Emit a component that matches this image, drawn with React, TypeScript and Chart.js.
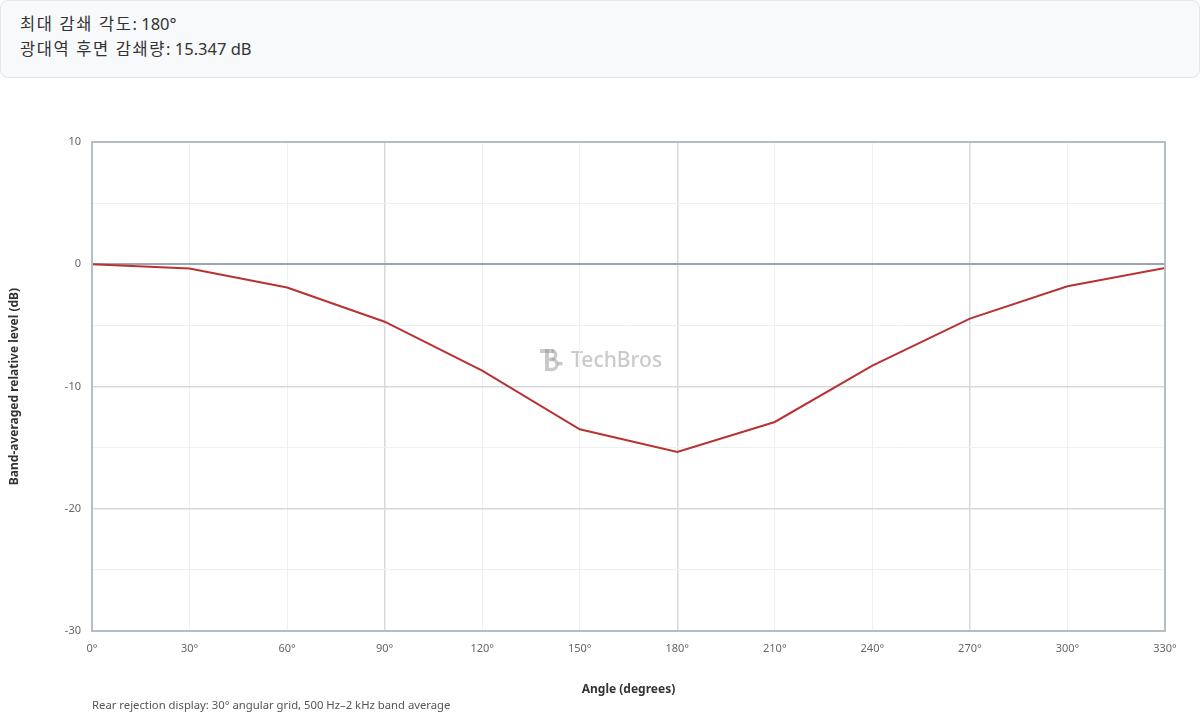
import { useEffect, useRef } from "react";
import { Chart } from "chart.js/auto";

const angles = [0, 30, 60, 90, 120, 150, 180, 210, 240, 270, 300, 330];
const levels = [0, -0.35, -1.9, -4.7, -8.7, -13.5, -15.347, -12.9, -8.3, -4.45, -1.8, -0.3];
const infoLabels = ["최대 감쇄 각도", "광대역 후면 감쇄량"];
const infoValues = ["180°", "15.347 dB"];
const caption = "Rear rejection display: 30° angular grid, 500 Hz–2 kHz band average";

const FONT = '"Segoe UI", "Noto Sans", "Noto Sans CJK KR", sans-serif';

// frame around the plot area + watermark
const framePlugin = {
  id: "frame",
  beforeDraw(chart: Chart) {
    const { ctx } = chart;
    ctx.save();
    ctx.fillStyle = "rgba(150,150,150,0.5)";
    ctx.strokeStyle = "rgba(150,150,150,0.5)";
    const x = 540;
    const y = 258;
    // logo: T bar + B bumps + dash
    ctx.fillRect(x, y, 14, 4);
    ctx.fillRect(x + 5, y, 4, 22);
    ctx.lineWidth = 3.4;
    ctx.beginPath();
    ctx.moveTo(x + 9, y + 10.5);
    ctx.lineTo(x + 12, y + 10.5);
    ctx.arc(x + 12, y + 15.5, 5, -Math.PI / 2, Math.PI / 2);
    ctx.lineTo(x + 9, y + 20.5);
    ctx.stroke();
    ctx.beginPath();
    ctx.arc(x + 11.5, y + 6, 4.2, -Math.PI / 2, Math.PI / 2);
    ctx.stroke();
    ctx.fillRect(x + 17.5, y + 13, 5, 3.4);
    ctx.font = `500 21px ${FONT}`;
    ctx.textBaseline = "middle";
    ctx.fillText("TechBros", x + 31, y + 12);
    ctx.restore();
  },
  afterDraw(chart: Chart) {
    const { ctx, chartArea: a } = chart;
    ctx.save();
    ctx.strokeStyle = "#b5bdc6";
    ctx.lineWidth = 2;
    ctx.strokeRect(a.left, a.top, a.right - a.left, a.bottom - a.top);
    ctx.restore();
  },
};

export default function App() {
  const canvasRef = useRef<HTMLCanvasElement>(null);

  useEffect(() => {
    document.body.style.margin = "0";
    const canvas = canvasRef.current;
    if (!canvas) return;
    Chart.getChart(canvas)?.destroy();

    const chart = new Chart(canvas, {
      type: "line",
      data: {
        datasets: [
          {
            label: "Relative level",
            data: angles.map((a, i) => ({ x: a, y: levels[i] })),
            borderColor: "#b83232",
            borderWidth: 2,
            pointRadius: 0,
            tension: 0,
            fill: false,
          },
        ],
      },
      options: {
        animation: false,
        responsive: true,
        maintainAspectRatio: false,
        layout: { padding: { top: 51, right: 35, bottom: 0, left: 0 } },
        plugins: {
          legend: { display: false },
          tooltip: { enabled: false },
        },
        scales: {
          x: {
            type: "linear",
            min: 0,
            max: 330,
            afterFit: (s: any) => {
              s.height = 85;
            },
            ticks: {
              stepSize: 30,
              color: "#666",
              font: { family: FONT, size: 11 },
              callback: (v: any) => `${v}°`,
            },
            grid: {
              color: (c: any) =>
                c.tick && c.tick.value % 90 === 0 ? "#d5dae0" : "#eef1f4",
              lineWidth: (c: any) => (c.tick && c.tick.value % 90 === 0 ? 1.5 : 1),
              drawTicks: true,
              tickLength: 8,
              tickColor: "transparent",
            },
            border: { display: false },
            title: {
              display: true,
              text: "Angle (degrees)",
              color: "#333",
              font: { family: FONT, size: 12, weight: "bold" },
              padding: { top: 0, bottom: 19 },
            },
          },
          y: {
            min: -30,
            max: 10,
            afterFit: (s: any) => {
              s.width = 92;
            },
            ticks: {
              stepSize: 5,
              color: "#666",
              font: { family: FONT, size: 11 },
              callback: (v: any) => (Number(v) % 10 === 0 ? `${v}` : ""),
            },
            grid: {
              color: (c: any) => {
                const v = c.tick ? c.tick.value : 1;
                if (v === 0) return "#9aa5b1";
                return v % 10 === 0 ? "#d5dae0" : "#eef1f4";
              },
              lineWidth: (c: any) => {
                const v = c.tick ? c.tick.value : 1;
                if (v === 0) return 2;
                return v % 10 === 0 ? 1.5 : 1;
              },
              tickLength: 8,
              tickColor: "transparent",
            },
            border: { display: false },
            title: {
              display: true,
              text: "Band-averaged relative level (dB)",
              color: "#333",
              font: { family: FONT, size: 12, weight: "bold" },
              padding: { top: 7, bottom: 0 },
            },
          },
        },
      },
      plugins: [framePlugin],
    });

    return () => chart.destroy();
  }, []);

  return (
    <div style={{ position: "relative", width: 1200, height: 716, fontFamily: FONT }}>
      <div
        style={{
          position: "absolute",
          left: 0,
          top: 0,
          width: 1198,
          height: 76,
          background: "#f8f9fb",
          border: "1px solid #e3e6ea",
          borderRadius: 8,
          boxSizing: "content-box",
        }}
      >
        {infoLabels.map((t, i) => (
          <div
            key={i}
            style={{
              position: "absolute",
              left: 19,
              top: 11 + i * 25,
              fontSize: 16.5,
              lineHeight: "24px",
              color: "#333",
              whiteSpace: "nowrap",
              fontFamily: '"Segoe UI", "Noto Sans", "Noto Sans CJK KR", sans-serif',
            }}
          >
            <span style={{ letterSpacing: "1.6px" }}>{t}</span>: {infoValues[i]}
          </div>
        ))}
      </div>
      <div style={{ position: "absolute", left: 0, top: 91, width: 1200, height: 625 }}>
        <canvas ref={canvasRef} aria-label="rear rejection line chart" />
      </div>
      <div
        style={{
          position: "absolute",
          left: 92,
          top: 697,
          fontSize: 11.3,
          lineHeight: "16px",
          color: "#555",
          whiteSpace: "nowrap",
        }}
      >
        {caption}
      </div>
    </div>
  );
}
